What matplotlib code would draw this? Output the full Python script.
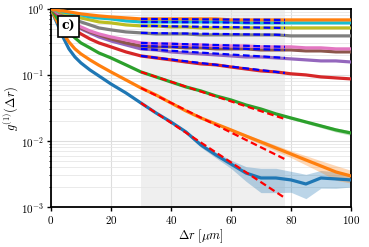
import matplotlib
matplotlib.use('Agg')
import matplotlib.pyplot as plt
import numpy as np

plt.rcParams['font.family'] = 'cmr10'
plt.rcParams['mathtext.fontset'] = 'cm'
plt.rcParams['axes.formatter.use_mathtext'] = True

# distance grid (um)
dr = [0, 1, 2, 3, 4, 6, 8, 10, 13, 16, 20, 25, 30, 35, 40, 45, 50, 55, 60,
      65, 70, 75, 80, 85, 90, 95, 100]

g_blue = [1.0, 0.783, 0.614, 0.481, 0.376, 0.248, 0.187, 0.152, 0.119, 0.0966,
          0.0730, 0.0534, 0.0376, 0.0266, 0.0194, 0.0137, 0.0087, 0.00614,
          0.00448, 0.00327, 0.00275, 0.00275, 0.00257, 0.00223, 0.00275,
          0.00266, 0.00257]
g_orange = [1.0, 0.811, 0.658, 0.534, 0.433, 0.316, 0.248, 0.208, 0.169, 0.140,
            0.111, 0.0840, 0.0635, 0.0498, 0.0376, 0.0285, 0.0223, 0.0181,
            0.0147, 0.0119, 0.00966, 0.00783, 0.00635, 0.00515, 0.00418,
            0.00339, 0.00295]
g_green = [1.0, 0.870, 0.730, 0.635, 0.553, 0.448, 0.364, 0.305, 0.257, 0.215,
           0.181, 0.142, 0.111, 0.0933, 0.0783, 0.0658, 0.0572, 0.0481,
           0.0418, 0.0351, 0.0305, 0.0257, 0.0223, 0.0194, 0.0169, 0.0147,
           0.0132]
g_red = [1.0, 0.933, 0.840, 0.756, 0.681, 0.572, 0.481, 0.418, 0.351, 0.305,
         0.266, 0.223, 0.194, 0.181, 0.169, 0.157, 0.147, 0.142, 0.132, 0.123,
         0.115, 0.111, 0.104, 0.100, 0.0933, 0.0901, 0.0870]
g_purple = [1.0, 0.966, 0.870, 0.811, 0.730, 0.635, 0.553, 0.498, 0.433, 0.376,
            0.327, 0.285, 0.248, 0.239, 0.223, 0.215, 0.208, 0.201, 0.194,
            0.187, 0.187, 0.181, 0.175, 0.169, 0.163, 0.163, 0.157]
g_brown = [1.0, 0.966, 0.901, 0.840, 0.756, 0.658, 0.572, 0.515, 0.448, 0.404,
           0.351, 0.305, 0.275, 0.266, 0.266, 0.257, 0.257, 0.248, 0.248,
           0.248, 0.239, 0.239, 0.239, 0.231, 0.231, 0.223, 0.223]
g_pink = [1.0, 0.966, 0.901, 0.840, 0.783, 0.681, 0.592, 0.534, 0.464, 0.418,
          0.376, 0.339, 0.305, 0.295, 0.295, 0.285, 0.285, 0.275, 0.275, 0.275,
          0.266, 0.266, 0.266, 0.257, 0.257, 0.248, 0.248]
g_gray = [1.0, 0.966, 0.933, 0.870, 0.840, 0.756, 0.681, 0.635, 0.572, 0.515,
          0.481, 0.448, 0.433, 0.418, 0.418, 0.418, 0.404, 0.404, 0.404, 0.404,
          0.404, 0.404, 0.390, 0.390, 0.390, 0.390, 0.390]
g_olive = [1.0, 0.966, 0.933, 0.901, 0.870, 0.811, 0.756, 0.730, 0.681, 0.635,
           0.614, 0.572, 0.553, 0.553, 0.534, 0.534, 0.515, 0.515, 0.515, 0.515,
           0.515, 0.515, 0.515, 0.515, 0.515, 0.515, 0.515]
g_cyan = [1.0, 0.966, 0.933, 0.933, 0.901, 0.870, 0.840, 0.811, 0.756, 0.730,
          0.705, 0.658, 0.635, 0.635, 0.635, 0.635, 0.635, 0.635, 0.635, 0.614,
          0.614, 0.614, 0.614, 0.614, 0.614, 0.614, 0.614]
g_orange2 = [1.0, 0.966, 0.966, 0.933, 0.933, 0.901, 0.870, 0.840, 0.811, 0.783,
             0.756, 0.730, 0.705, 0.705, 0.705, 0.705, 0.705, 0.705, 0.681,
             0.681, 0.681, 0.681, 0.681, 0.681, 0.681, 0.681, 0.681]

# relative uncertainty for the three fast decaying curves
err_blue = [0.0, 0.02, 0.02, 0.02, 0.02, 0.02, 0.02, 0.02, 0.02, 0.03, 0.03,
            0.03, 0.04, 0.04, 0.05, 0.06, 0.08, 0.10, 0.14, 0.25, 0.40, 0.40,
            0.35, 0.40, 0.30, 0.28, 0.22]
err_orange = [0.0, 0.01, 0.01, 0.01, 0.01, 0.01, 0.01, 0.01, 0.01, 0.02, 0.02,
              0.02, 0.02, 0.03, 0.03, 0.03, 0.04, 0.04, 0.05, 0.06, 0.08,
              0.10, 0.12, 0.16, 0.20, 0.25, 0.22]
err_green = [0.0, 0.01, 0.01, 0.01, 0.01, 0.01, 0.01, 0.01, 0.01, 0.01, 0.01,
             0.01, 0.01, 0.02, 0.02, 0.02, 0.02, 0.03, 0.03, 0.03, 0.04, 0.04,
             0.05, 0.05, 0.06, 0.07, 0.08]

curves = [g_blue, g_orange, g_green, g_red, g_purple, g_brown, g_pink, g_gray,
          g_olive, g_cyan, g_orange2]
colors = ['tab:blue', 'tab:orange', 'tab:green', 'tab:red', 'tab:purple',
          'tab:brown', 'tab:pink', 'tab:gray', 'tab:olive', 'tab:cyan',
          'tab:orange']
errors = [err_blue, err_orange, err_green]

# exponential fits over the window
fit_range = [30, 78]
fit_start = [0.0376, 0.0635, 0.111, 0.194, 0.248, 0.275, 0.305, 0.433, 0.553,
             0.635, 0.705]
fit_end = [0.00137, 0.0053, 0.0215, 0.107, 0.181, 0.239, 0.266, 0.404, 0.515,
           0.614, 0.681]
fit_colors = ['red', 'red', 'red', 'blue', 'blue', 'blue', 'blue', 'blue',
              'blue', 'blue', 'blue']

fig = plt.figure(figsize=(3.69, 2.47), dpi=100)
ax = fig.add_axes([0.138, 0.162, 0.813, 0.802])

ax.axvspan(fit_range[0], fit_range[1], color='#efefef', lw=0, zorder=0)

x = np.array(dr)
for i, (g, c) in enumerate(zip(curves, colors)):
    g = np.array(g)
    if i < len(errors):
        e = np.array(errors[i]) * g
        ax.fill_between(x, g - e, g + e, color=c, alpha=0.3, lw=0, zorder=2)
    ax.plot(x, g, color=c, lw=2.3, zorder=3)

for s, e, c in zip(fit_start, fit_end, fit_colors):
    ax.plot(fit_range, [s, e], color=c, lw=1.6, ls=(0, (3, 1.6)), zorder=4)

ax.set_yscale('log')
ax.set_xlim(0, 100)
ax.set_ylim(1e-3, 1)
ax.set_xticks([0, 20, 40, 60, 80, 100])
ax.grid(True, which='major', color='#dddddd', lw=0.8, zorder=1)
ax.grid(True, which='minor', axis='y', color='#e6e6e6', lw=0.6, zorder=1)
ax.set_axisbelow(True)
ax.tick_params(labelsize=8, length=3, width=1, pad=2)
ax.tick_params(which='minor', length=1.5)
for sp in ax.spines.values():
    sp.set_linewidth(1.3)

ax.set_xlabel(r'$\Delta r\ [\mu m]$', fontsize=9, labelpad=1)
ax.set_ylabel(r'$g^{(1)}(\Delta r)$', fontsize=9, labelpad=0)

ax.text(0.035, 0.945, 'c)', transform=ax.transAxes, fontsize=9,
        fontweight='bold', family='DejaVu Serif', va='top', ha='left', zorder=6,
        bbox=dict(boxstyle='square,pad=0.3', fc='white', ec='black', lw=1.2))

fig.savefig('out.png', dpi=100)
